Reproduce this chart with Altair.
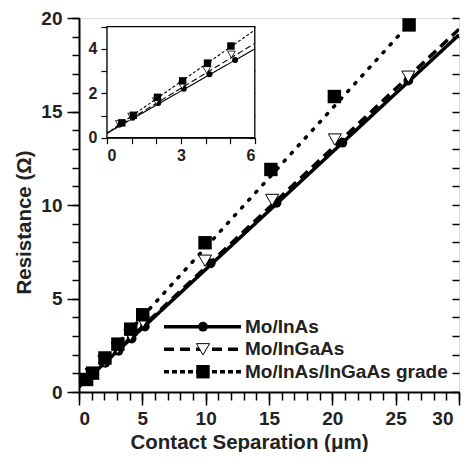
import altair as alt
import pandas as pd

series = ["Mo/InAs", "Mo/InGaAs", "Mo/InAs/InGaAs grade"]

# measured points (Contact separation in um, resistance in ohm)
inas_x = [0.52, 1.04, 2.08, 3.12, 4.16, 5.2, 10.4, 15.6, 20.8, 26.0]
inas_y = [0.6, 0.9, 1.56, 2.2, 2.86, 3.5, 6.88, 10.12, 13.33, 16.65]
ingaas_x = [0.5, 1.0, 2.0, 3.05, 4.05, 5.05, 9.95, 15.25, 20.2, 26.0]
ingaas_y = [0.62, 0.95, 1.65, 2.35, 3.05, 3.75, 7.02, 10.27, 13.5, 16.86]
grade_x = [0.6, 1.07, 2.05, 3.07, 4.08, 5.03, 9.95, 15.15, 20.16, 26.06]
grade_y = [0.67, 1.01, 1.82, 2.56, 3.36, 4.13, 7.98, 11.9, 15.8, 19.63]

# linear fit lines (end points)
fit_x = [0, 30]
fit_inas = [0.28, 19.1]
fit_ingaas = [0.3, 19.4]
fit_grade = [0.3, 22.6]
inset_fit_x = [0, 6]
inset_fit_inas = [0.2, 4.0]
inset_fit_ingaas = [0.2, 4.25]
inset_fit_grade = [0.2, 4.85]

x_domain = [0, 30]
y_domain = [0, 20]
inset_x_domain = [0, 6]
inset_y_domain = [0, 5]

W, H = 380, 374
INSET_XR = [28.0, 175.8]
INSET_YR = [119.7, 8.7]
FONT = "Liberation Sans"
TXT = "#222222"

pts = {
    series[0]: (inas_x, inas_y),
    series[1]: (ingaas_x, ingaas_y),
    series[2]: (grade_x, grade_y),
}
fits = {series[0]: fit_inas, series[1]: fit_ingaas, series[2]: fit_grade}
inset_fits = {series[0]: inset_fit_inas, series[1]: inset_fit_ingaas, series[2]: inset_fit_grade}

line_style = {
    series[0]: dict(strokeDash=[1, 0]),
    series[1]: dict(strokeDash=[10, 6]),
    series[2]: dict(strokeDash=[1.5, 9], strokeCap="round"),
}
legend_line_style = {
    series[0]: dict(strokeDash=[1, 0]),
    series[1]: dict(strokeDash=[10, 6]),
    series[2]: dict(strokeDash=[5, 3]),
}
inset_line_style = {
    series[0]: dict(strokeDash=[1, 0]),
    series[1]: dict(strokeDash=[6, 3]),
    series[2]: dict(strokeDash=[3, 2]),
}
marker = {
    series[0]: dict(shape="circle", filled=True, fill="black", size=95),
    series[1]: dict(shape="triangle-down", filled=True, fill="white", stroke="black", strokeWidth=1, size=170),
    series[2]: dict(shape="square", filled=True, fill="black", size=180),
}
inset_marker = {
    series[0]: dict(shape="circle", filled=True, fill="black", size=36),
    series[1]: dict(shape="triangle-down", filled=True, fill="white", stroke="black", strokeWidth=0.8, size=60),
    series[2]: dict(shape="square", filled=True, fill="black", size=55),
}


def mx(axis=None):
    return alt.X("x:Q", scale=alt.Scale(domain=x_domain, nice=False, zero=False), axis=axis)


def my(axis=None):
    return alt.Y("y:Q", scale=alt.Scale(domain=y_domain, nice=False, zero=False), axis=axis)


def ix(field="x", axis=None):
    return alt.X(f"{field}:Q", scale=alt.Scale(domain=inset_x_domain, range=INSET_XR, nice=False, zero=False), axis=axis)


def iy(field="y", axis=None):
    return alt.Y(f"{field}:Q", scale=alt.Scale(domain=inset_y_domain, range=INSET_YR, nice=False, zero=False), axis=axis)


layers = []

# main axes (major ticks, labels, titles) carried by an invisible layer
all_pts = pd.concat([pd.DataFrame({"x": v[0], "y": v[1], "s": k}) for k, v in pts.items()])
layers.append(
    alt.Chart(all_pts).mark_point(opacity=0).encode(
        x=mx(alt.Axis(orient="bottom", values=list(range(0, 31, 5)), tickSize=13, tickWidth=1.5,
                      labelPadding=4, labelFontSize=19, labelFontWeight="bold", labelColor=TXT, labelFont=FONT,
                      labelOffset={"condition": {"test": "datum.value >= 30", "value": -6}, "value": 0},
                      title="Contact Separation (\u03bcm)", titleFontSize=20.5, titleFontWeight="bold",
                      titleFont=FONT, titleColor=TXT, titleX=170, titleY=56, titleBaseline="alphabetic",
                      titleAlign="center", grid=False, domainWidth=2, domainColor="black", tickColor="black")),
        y=my(alt.Axis(orient="left", values=list(range(0, 21, 5)), tickSize=12, tickWidth=1.5,
                      labelPadding=5, labelFontSize=19, labelFontWeight="bold", labelColor=TXT, labelFont=FONT,
                      title="Resistance (\u03a9)", titleFontSize=20.5, titleFontWeight="bold", titleFont=FONT,
                      titleColor=TXT, titleX=-55, titleY=204, titleBaseline="middle", titleAlign="center",
                      titleAngle=270, grid=False, domainWidth=2, domainColor="black", tickColor="black")),
    )
)
# minor ticks
layers.append(
    alt.Chart(all_pts).mark_point(opacity=0).encode(
        x=mx(alt.Axis(orient="bottom", values=list(range(0, 31)), tickSize=8, tickWidth=1.5, labels=False,
                      domain=False, title=None, grid=False, tickColor="black")),
        y=my(alt.Axis(orient="left", values=list(range(0, 21)), tickSize=7, tickWidth=1.5, labels=False,
                      domain=False, title=None, grid=False, tickColor="black")),
    )
)
# right-side inward ticks
layers.append(
    alt.Chart(all_pts).mark_point(opacity=0).encode(
        x=mx(None),
        y=my(alt.Axis(orient="left", offset=-W, values=list(range(0, 21)), tickSize=7, tickWidth=1.5,
                      labels=False, domain=False, title=None, grid=False, tickColor="black")),
    )
)

# main fit lines and points
for s in series:
    df = pd.DataFrame({"x": fit_x, "y": fits[s]})
    layers.append(alt.Chart(df).mark_line(color="black", strokeWidth=3.5, clip=True, **line_style[s])
                  .encode(x=mx(), y=my()))
for s in series:
    df = pd.DataFrame({"x": pts[s][0], "y": pts[s][1]})
    layers.append(alt.Chart(df).mark_point(opacity=1, **marker[s]).encode(x=mx(), y=my()))

# inset frame
frame = pd.DataFrame({"x": [inset_x_domain[0]], "x2": [inset_x_domain[1]],
                      "y": [inset_y_domain[0]], "y2": [inset_y_domain[1]]})
layers.append(
    alt.Chart(frame).mark_rect(fill="white", stroke="black", strokeWidth=1.3).encode(
        x=ix("x"), x2="x2:Q", y=iy("y"), y2="y2:Q")
)
# inset axes
inset_pts = pd.concat([pd.DataFrame({"x": v[0][:6], "y": v[1][:6]}) for v in pts.values()])
layers.append(
    alt.Chart(inset_pts).mark_point(opacity=0).encode(
        x=ix("x", alt.Axis(orient="bottom", offset=-(H - INSET_YR[0]), values=list(range(0, 7)), tickSize=6,
                           tickWidth=1.2, labelExpr="datum.value % 3 == 0 ? datum.label : ''", labelPadding=4,
                           labelFontSize=16, labelFontWeight="bold", labelColor=TXT, labelFont=FONT,
                           title=None, grid=False, domainWidth=1.3, domainColor="black", tickColor="black")),
        y=iy("y", alt.Axis(orient="left", offset=-INSET_XR[0], values=list(range(0, 6)), tickSize=6,
                           tickWidth=1.2, labelExpr="datum.value % 2 == 0 ? datum.label : ''", labelPadding=4,
                           labelFontSize=16, labelFontWeight="bold", labelColor=TXT, labelFont=FONT,
                           title=None, grid=False, domainWidth=1.3, domainColor="black", tickColor="black")),
    )
)
layers.append(
    alt.Chart(inset_pts).mark_point(opacity=0).encode(
        x=ix("x", None),
        y=iy("y", alt.Axis(orient="left", offset=-INSET_XR[1], values=list(range(0, 6)), tickSize=6,
                           tickWidth=1.2, labels=False, domain=False, title=None, grid=False, tickColor="black")),
    )
)
for s in series:
    df = pd.DataFrame({"x": inset_fit_x, "y": inset_fits[s]})
    layers.append(alt.Chart(df).mark_line(color="black", strokeWidth=1.1, **inset_line_style[s])
                  .encode(x=ix(), y=iy()))
for s in series:
    df = pd.DataFrame({"x": pts[s][0][:6], "y": pts[s][1][:6]})
    layers.append(alt.Chart(df).mark_point(opacity=1, **inset_marker[s]).encode(x=ix(), y=iy()))

# legend (drawn by hand)
leg_rows = [308.7, 331.3, 353.7]
for s, ry in zip(series, leg_rows):
    d = pd.DataFrame({"label": [s]})
    layers.append(alt.Chart(d).mark_rule(color="black", strokeWidth=3.5, **legend_line_style[s]).encode(
        x=alt.value(85), x2=alt.value(162), y=alt.value(ry)))
    layers.append(alt.Chart(d).mark_point(opacity=1, **marker[s]).encode(x=alt.value(124), y=alt.value(ry)))
    layers.append(alt.Chart(d).mark_text(align="left", baseline="middle", font=FONT, fontSize=19,
                                         fontWeight="bold", color=TXT).encode(
        x=alt.value(166), y=alt.value(ry), text="label:N"))

chart = alt.layer(*layers).resolve_scale(x="independent", y="independent").properties(
    width=W, height=H,
    autosize=alt.AutoSizeParams(type="none"),
    padding={"left": 71, "top": 10, "right": 6, "bottom": 60},
).configure_view(stroke="black", strokeWidth=2).configure(background="white")

chart.save("out.html", embed_options={"renderer": "svg", "actions": False})
